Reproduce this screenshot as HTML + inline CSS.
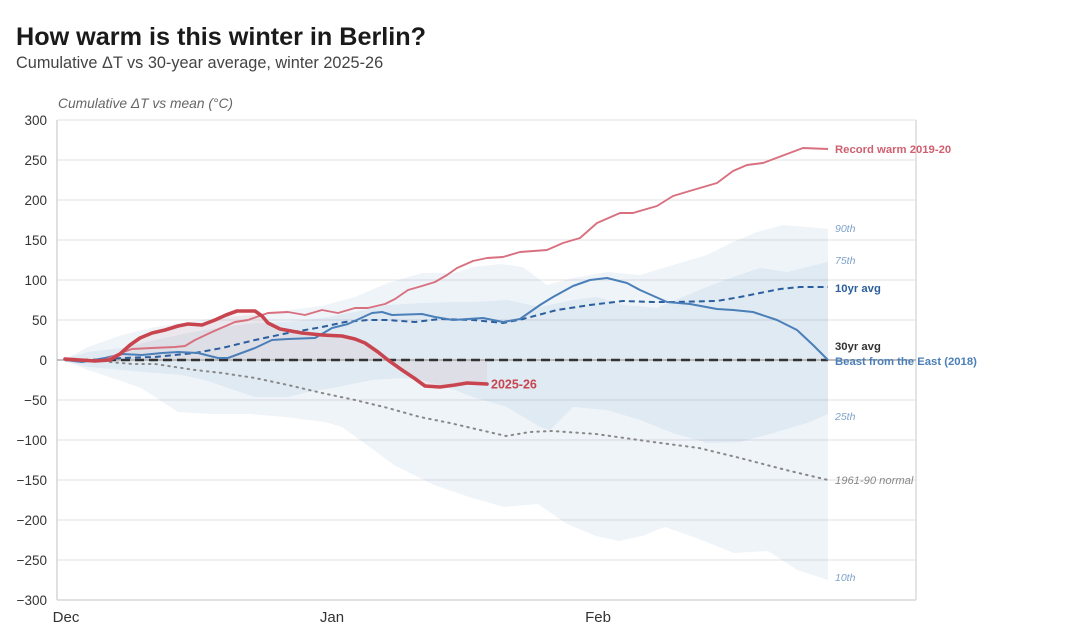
<!DOCTYPE html>
<html><head><meta charset="utf-8"><style>
html,body{margin:0;padding:0;background:#fff;}
svg{display:block;font-family:"Liberation Sans",Arial,sans-serif;}
</style></head><body>
<svg width="1080" height="644" viewBox="0 0 1080 644" xmlns="http://www.w3.org/2000/svg">
<rect width="1080" height="644" fill="#fff"/>
<text x="16" y="45" font-size="25.2" font-weight="bold" fill="#1a1a1a">How warm is this winter in Berlin?</text>
<text x="16" y="68" font-size="16.3" fill="#444">Cumulative ΔT vs 30-year average, winter 2025-26</text>
<text x="58" y="108" font-size="13.8" font-style="italic" fill="#666">Cumulative ΔT vs mean (°C)</text>

<!-- gridlines -->
<g stroke="#e8e8e8" stroke-width="1.3">
<line x1="57" x2="916" y1="120" y2="120"/><line x1="57" x2="916" y1="160" y2="160"/>
<line x1="57" x2="916" y1="200" y2="200"/><line x1="57" x2="916" y1="240" y2="240"/>
<line x1="57" x2="916" y1="280" y2="280"/><line x1="57" x2="916" y1="320" y2="320"/>
<line x1="57" x2="916" y1="400" y2="400"/><line x1="57" x2="916" y1="440" y2="440"/>
<line x1="57" x2="916" y1="480" y2="480"/><line x1="57" x2="916" y1="520" y2="520"/>
<line x1="57" x2="916" y1="560" y2="560"/>
</g>

<!-- bands -->
<polygon fill="rgb(70,130,180)" fill-opacity="0.085" points="65,359 88,347 122,335 155,327 188,322 222,317 255,315 288,310 322,306 355,297 388,283 422,273 455,273 473,267 500,264 523,267 547,285 573,278 607,272 640,275 673,265 707,255 733,242 757,232 783,225 807,227 828,229 828,580 797,570 768,551 734,553 699,539 665,527 642,536 619,541 596,536 567,524 538,504 504,507 469,497 434,485 394,465 371,448 342,427 325,422 285,417 250,414 210,414 178,412 158,399 141,388 118,380 88,370 65,361"/>
<polygon fill="rgb(70,130,180)" fill-opacity="0.085" points="65,359 88,352 122,348 155,340 188,333 222,327 255,323 288,322 322,318 355,312 388,305 422,303 455,302 473,302 507,300 540,307 573,300 597,297 623,305 657,308 673,301 707,287 733,277 760,268 787,272 807,267 828,262 828,414 807,423 773,433 740,442 707,443 673,433 640,420 607,410 573,407 550,430 540,427 507,407 473,397 455,390 422,380 400,378 372,380 338,387 308,392 288,397 255,397 228,388 205,380 182,375 155,373 122,370 88,367 65,361"/>

<!-- 2025-26 fill -->
<polygon fill="rgb(200,70,80)" fill-opacity="0.07" points="65,359 80,360 95,361 110,360 120,354 130,345 140,338 152,333 165,330 178,326 188,324 202,325 215,320 226,315 237,311 255,311 262,316 268,323 280,329 302,333 322,335 342,336 355,339 365,343 378,352 388,360 402,370 414,378 425,386 440,387 455,385 467,383 487,384 487,360"/>

<!-- axes -->
<line x1="57" x2="57" y1="120" y2="600" stroke="#cfcfcf" stroke-width="1.3"/>
<line x1="57" x2="916" y1="600" y2="600" stroke="#cfcfcf" stroke-width="1.3"/>
<line x1="916" x2="916" y1="120" y2="600" stroke="#d6d6d6" stroke-width="1.3"/>
<line x1="57" x2="916" y1="360" y2="360" stroke="#aaa" stroke-width="1.5"/>

<!-- 1961-90 normal -->
<polyline fill="none" stroke="#888" stroke-width="2" stroke-dasharray="1.5,5" stroke-linecap="round" points="110,362 132,364 155,364 195,370 222,373 255,378 288,385 322,393 355,400 388,408 420,417 450,423 480,430 506,436 530,432 552,431 596,434 653,442 699,448 740,458 786,470 828,480"/>

<!-- 30yr avg -->
<line x1="65" x2="828" y1="360" y2="360" stroke="#333" stroke-width="2.6" stroke-dasharray="9,5"/>

<!-- 10yr avg -->
<polyline fill="none" stroke="#2b5f9e" stroke-width="2" stroke-dasharray="6,4" points="65,360 90,360 122,358 155,357 195,353 222,348 255,340 288,333 322,327 345,322 368,320 388,320 415,322 440,319 473,320 503,323 523,319 557,310 590,305 623,301 653,302 673,302 717,301 740,297 760,293 780,289 800,287 828,287"/>

<!-- Beast from the East -->
<polyline fill="none" stroke="#4a7fb8" stroke-width="2" stroke-linejoin="round" points="65,360 82,362 105,358 122,354 142,355 162,353 178,352 198,353 218,358 228,358 255,348 272,340 288,339 315,338 332,328 348,324 372,313 382,312 392,315 422,314 435,317 453,320 483,318 503,322 520,319 540,305 553,297 573,286 590,280 607,278 627,283 640,290 667,302 690,304 717,309 733,310 753,312 777,320 797,330 813,345 828,360"/>

<!-- Record warm -->
<polyline fill="none" stroke="#d9707f" stroke-width="1.9" stroke-linejoin="round" points="65,360 85,361 105,360 118,354 132,349 152,348 175,347 185,346 195,340 212,332 235,322 248,320 268,313 288,312 305,315 322,310 338,313 355,308 368,308 385,304 395,299 408,290 422,286 435,282 447,275 457,268 473,261 487,258 503,257 520,252 547,250 563,243 580,238 597,223 620,213 633,213 657,206 673,196 693,190 717,183 733,171 747,165 763,163 787,154 803,148 828,149"/>

<!-- 2025-26 -->
<polyline fill="none" stroke="#c8454f" stroke-width="3.6" stroke-linejoin="round" stroke-linecap="round" points="65,359 80,360 95,361 110,360 120,354 130,345 140,338 152,333 165,330 178,326 188,324 202,325 215,320 226,315 237,311 255,311 262,316 268,323 280,329 302,333 322,335 342,336 355,339 365,343 378,352 388,360 402,370 414,378 425,386 440,387 455,385 467,383 487,384"/>

<!-- labels -->
<text x="491" y="388.5" font-size="12.5" font-weight="bold" fill="#c8454f">2025-26</text>
<g font-size="11.3" font-weight="bold">
<text x="835" y="153" fill="#d0606f">Record warm 2019-20</text>
<text x="835" y="292" fill="#2b5f9e">10yr avg</text>
<text x="835" y="350" fill="#333">30yr avg</text>
<text x="835" y="365" fill="#4a7fb8">Beast from the East (2018)</text>
</g>
<g font-size="10.5" font-style="italic" fill="#7ea3c8">
<text x="835" y="232">90th</text>
<text x="835" y="264">75th</text>
<text x="835" y="420">25th</text>
<text x="835" y="581">10th</text>
</g>
<text x="835" y="484" font-size="11.2" font-style="italic" fill="#888">1961-90 normal</text>

<!-- y ticks -->
<g font-size="13.5" fill="#333" text-anchor="end">
<text x="47" y="125">300</text><text x="47" y="165">250</text><text x="47" y="205">200</text>
<text x="47" y="245">150</text><text x="47" y="285">100</text><text x="47" y="325">50</text>
<text x="47" y="365">0</text><text x="47" y="405">−50</text><text x="47" y="445">−100</text>
<text x="47" y="485">−150</text><text x="47" y="525">−200</text><text x="47" y="565">−250</text>
<text x="47" y="605">−300</text>
</g>
<!-- x ticks -->
<g font-size="15" fill="#333" text-anchor="middle">
<text x="66" y="622">Dec</text><text x="332" y="622">Jan</text><text x="598" y="622">Feb</text>
</g>
</svg>
</body></html>
